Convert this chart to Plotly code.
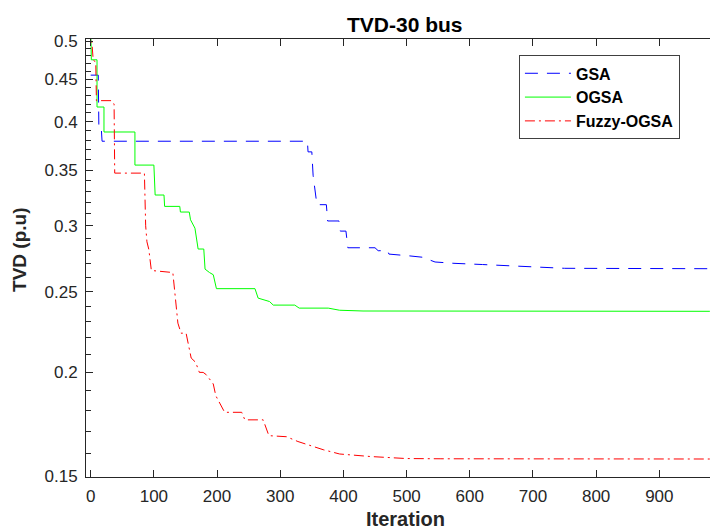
import plotly.graph_objects as go

# ---------------- data ----------------
gsa_x = [0, 12, 13, 17, 18, 343, 344, 350, 352, 358, 373, 375, 393, 395, 404, 407,
         450, 455, 470, 472, 505, 525, 545, 575, 620, 690, 750, 980]
gsa_y = [0.455, 0.455, 0.390, 0.390, 0.379, 0.379, 0.368, 0.368, 0.345, 0.318, 0.318,
         0.304, 0.304, 0.2956, 0.2956, 0.2823, 0.2823, 0.2800, 0.2800, 0.2774, 0.2760,
         0.2750, 0.2714, 0.2704, 0.2695, 0.2677, 0.2667, 0.2664]

ogsa_x = [0, 1, 10, 10, 21, 21, 70, 70, 100, 102, 116, 117, 141, 142, 156, 158, 165,
          170, 179, 181, 188, 194, 199, 260, 265, 283, 289, 323, 330, 376, 394, 431, 980]
ogsa_y = [0.52, 0.4747, 0.4747, 0.4166, 0.4166, 0.3888, 0.3888, 0.3548, 0.3548, 0.3266,
          0.3266, 0.3165, 0.3165, 0.3116, 0.3116, 0.3050, 0.2980, 0.2813, 0.2813, 0.2661,
          0.2636, 0.2620, 0.2521, 0.2521, 0.2456, 0.2433, 0.2409, 0.2409, 0.2389, 0.2389,
          0.2375, 0.2370, 0.2368]

fuzzy_x = [0, 2, 4, 8, 9, 33, 37, 38, 85, 87, 89, 92, 96, 130, 133, 138, 143, 151, 159,
           166, 172, 178, 183, 194, 198, 207, 212, 239, 244, 273, 282, 310, 328, 368,
           394, 442, 500, 553, 980]
fuzzy_y = [0.52, 0.49, 0.474, 0.472, 0.424, 0.424, 0.420, 0.347, 0.347, 0.300, 0.287,
           0.281, 0.2651, 0.2636, 0.2516, 0.2292, 0.2229, 0.2229, 0.2081, 0.2057, 0.2000,
           0.2000, 0.1987, 0.1937, 0.1875, 0.1820, 0.1791, 0.1791, 0.1754, 0.1754, 0.1679,
           0.1674, 0.1652, 0.1615, 0.1596, 0.1585, 0.1576, 0.1575, 0.1574]

series_names = ["GSA", "OGSA", "Fuzzy-OGSA"]

x_tickvals = [0, 100, 200, 300, 400, 500, 600, 700, 800, 900]
y_tickvals = [0.15, 0.2, 0.25, 0.3, 0.35, 0.4, 0.45, 0.5]
y_ticktext = ["0.15", "0.2", "0.25", "0.3", "0.35", "0.4", "0.45", "0.5"]
y_minor = [round(0.15 + 0.01 * i, 2) for i in range(1, 35)]
y_minor = [v for v in y_minor if v not in y_tickvals]

# ---------------- figure ----------------
FONT = "Liberation Sans, Arial, Helvetica, sans-serif"
AX = "#262626"

fig = go.Figure()
fig.add_trace(go.Scatter(x=gsa_x, y=gsa_y, mode="lines", name=series_names[0],
                         line=dict(color="#0000ff", width=1, dash="13px,9px")))
fig.add_trace(go.Scatter(x=ogsa_x, y=ogsa_y, mode="lines", name=series_names[1],
                         line=dict(color="#00ff00", width=1)))
fig.add_trace(go.Scatter(x=fuzzy_x, y=fuzzy_y, mode="lines", name=series_names[2],
                         line=dict(color="#ff0000", width=1, dash="10px,4px,2px,4px")))

fig.update_layout(
    width=710, height=529,
    margin=dict(l=86, r=0, t=39, b=52),
    paper_bgcolor="white", plot_bgcolor="white",
    font=dict(family=FONT, color=AX),
    showlegend=True,
    legend=dict(x=0.6938, y=0.9626, xanchor="left", yanchor="top",
                bgcolor="white", bordercolor="#404040", borderwidth=1,
                font=dict(family=FONT, size=16, color="black", weight="bold"),
                tracegroupgap=0, itemwidth=46,
                entrywidth=133, entrywidthmode="pixels"),
    annotations=[
        dict(text="<b>TVD-30 bus</b>", xref="paper", yref="paper", x=0.5117, y=1.034,
             xanchor="center", yanchor="middle", showarrow=False,
             font=dict(family=FONT, size=21, color="black")),
        dict(text="<b>Iteration</b>", xref="paper", yref="paper", x=0.5117, y=-0.097,
             xanchor="center", yanchor="middle", showarrow=False,
             font=dict(family=FONT, size=20, color=AX)),
        dict(text="<b>TVD (p.u)</b>", xref="paper", yref="paper", x=-0.1058, y=0.5183,
             xanchor="center", yanchor="middle", showarrow=False, textangle=-90,
             font=dict(family=FONT, size=19, color=AX)),
    ],
)

fig.update_xaxes(range=[-7.44, 980.2], tickvals=x_tickvals, ticks="inside", ticklen=7,
                 tickwidth=1, tickcolor=AX, showline=True, linecolor=AX, linewidth=1,
                 mirror="ticks", showgrid=False, zeroline=False, ticklabelstandoff=4,
                 tickfont=dict(family=FONT, size=17, color=AX))
fig.update_yaxes(type="log", range=[-0.8246, -0.2986], tickvals=y_tickvals,
                 ticktext=y_ticktext, ticks="inside", ticklen=7, tickwidth=1,
                 tickcolor=AX, showline=True, linecolor=AX, linewidth=1,
                 showgrid=False, zeroline=False, ticklabelstandoff=4,
                 minor=dict(tickvals=y_minor, ticks="inside", ticklen=5,
                            tickcolor=AX, tickwidth=1, showgrid=False),
                 tickfont=dict(family=FONT, size=17, color=AX))

fig.write_html("out.html")
